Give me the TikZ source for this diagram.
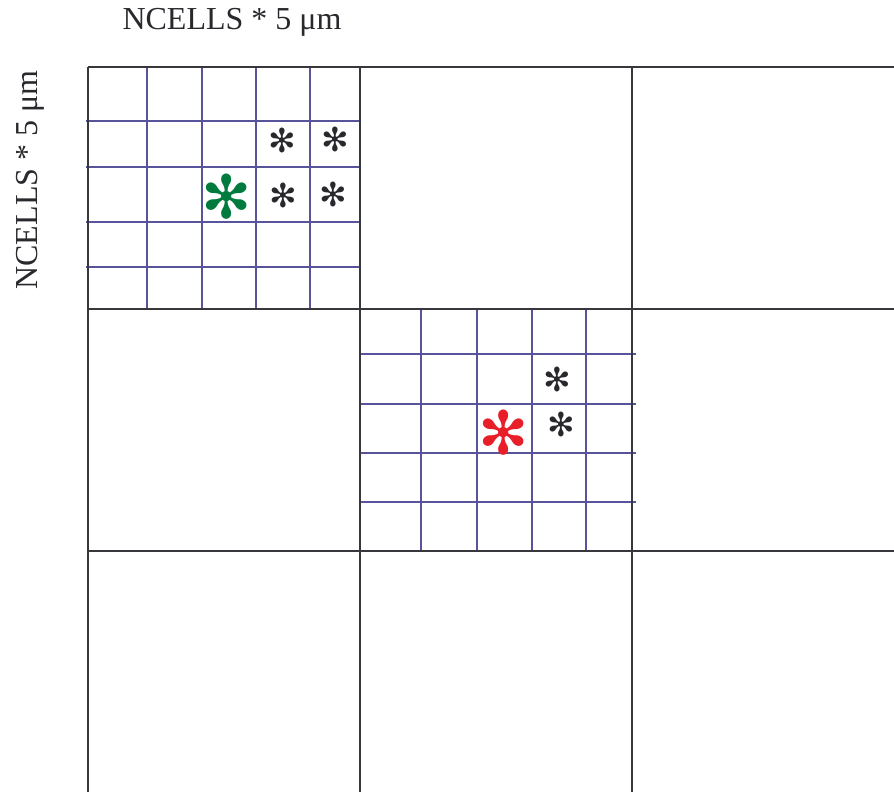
\documentclass[tikz,border=0pt]{standalone}
\usepackage{fontspec}
\setmainfont{Liberation Serif}
\newfontfamily\astfont{DejaVu Sans}
\definecolor{gridblack}{RGB}{55,55,60}
\definecolor{gridpurple}{RGB}{88,84,155}
\definecolor{astgreen}{RGB}{0,122,61}
\definecolor{astred}{RGB}{232,30,40}
\definecolor{asttext}{RGB}{40,40,45}
\tikzset{
  major/.style={draw=gridblack, line width=2pt},
  minor/.style={draw=gridpurple, line width=1.6pt},
  label/.style={font=\fontsize{32}{32}\selectfont, text=asttext, inner sep=0pt},
  smallast/.style={font=\astfont\fontsize{33}{33}\selectfont, text=asttext, inner sep=0pt, anchor=center},
  bigast/.style={font=\astfont\fontsize{60}{60}\selectfont, inner sep=0pt, anchor=center},
}
\begin{document}
\begin{tikzpicture}[x=1pt,y=-1pt]
\useasboundingbox (0,0) rectangle (894,792);
% minor grids
\foreach \x in {147,202,256,310} \draw[minor] (\x,67) -- (\x,309);
\foreach \y in {121,167,222,267} \draw[minor] (86,\y) -- (360,\y);
\foreach \x in {421,477,532,586} \draw[minor] (\x,309) -- (\x,551);
\foreach \y in {354,404,453,502} \draw[minor] (361,\y) -- (636,\y);
% major grid
\foreach \x in {88,360,632} \draw[major] (\x,67) -- (\x,792);
\foreach \y in {67,309,551} \draw[major] (88,\y) -- (894,\y);
% labels
\node[label] (top) at (232,22) {NCELLS * 5 μm};
\node[label, rotate=90] (side) at (30,180) {NCELLS * 5 μm};
% asterisks
\node[bigast, text=astgreen] (g) at (227,197) {✻};
\node[smallast] (a1) at (282,140) {✻};
\node[smallast] (a2) at (335,139) {✻};
\node[smallast] (a3) at (283,195) {✻};
\node[smallast] (a4) at (333,194) {✻};
\node[bigast, text=astred] (r) at (504,433) {✻};
\node[smallast] (b1) at (557,379) {✻};
\node[smallast] (b2) at (561,424) {✻};
\end{tikzpicture}
\end{document}
